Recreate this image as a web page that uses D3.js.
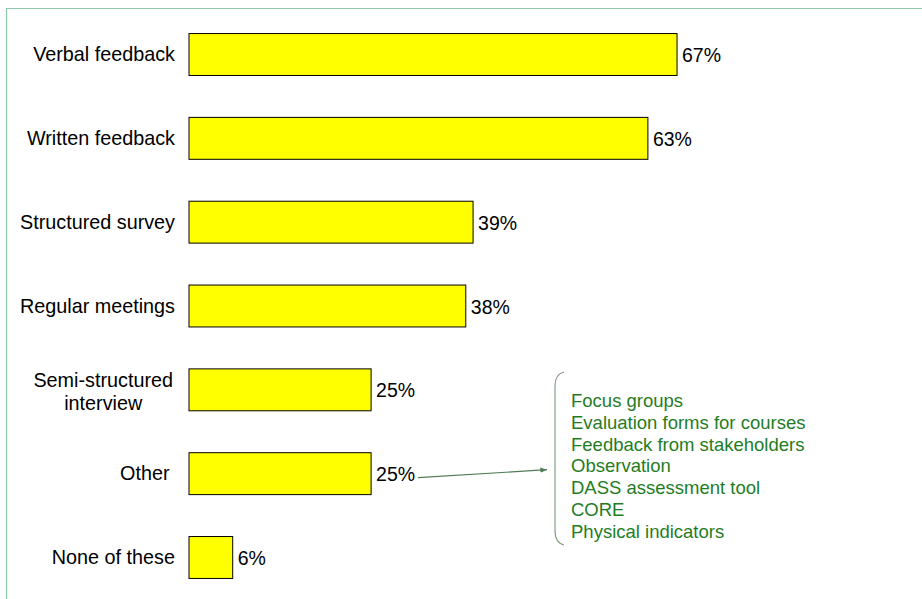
<!DOCTYPE html>
<html>
<head>
<meta charset="utf-8">
<script src="https://cdn.jsdelivr.net/npm/d3@7"></script>
<style>
  html, body { margin: 0; padding: 0; background: #fff; }
  svg { display: block; }
  text { font-family: Arial, "Liberation Sans", sans-serif; }
</style>
</head>
<body>
<svg id="chart" width="922" height="599"></svg>
<script>
// Feedback methods used (share of respondents, %)
const categories = [
  "Verbal feedback",
  "Written feedback",
  "Structured survey",
  "Regular meetings",
  "Semi-structured\ninterview",
  "Other\u00a0",
  "None of these"
];
const values = [67, 63, 39, 38, 25, 25, 6];

// Responses grouped under "Other"
const otherItems = [
  "Focus groups",
  "Evaluation forms for courses",
  "Feedback from stakeholders",
  "Observation",
  "DASS assessment tool",
  "CORE",
  "Physical indicators"
];

const svg = d3.select("#chart");
const W = 922, H = 599;

// Thin frame around the panel
svg.append("path")
  .attr("d", `M6.5,${H + 2} V8.5 H${W + 2}`)
  .attr("fill", "none")
  .attr("stroke", "#8dcaa9")
  .attr("stroke-width", 1.2);

const x = d3.scaleLinear().domain([0, 100]).range([189, 917.4]);
const y = d3.scaleBand()
  .domain(categories)
  .range([12.6, 599.4])
  .paddingInner(0.5)
  .paddingOuter(0.25);

// Bars
svg.append("g").selectAll("rect")
  .data(values)
  .join("rect")
  .attr("x", x(0))
  .attr("y", (d, i) => y(categories[i]))
  .attr("width", d => x(d) - x(0))
  .attr("height", y.bandwidth())
  .attr("fill", "#ffff00")
  .attr("stroke", "#000")
  .attr("stroke-width", 1);

// Value labels
svg.append("g").selectAll("text")
  .data(values)
  .join("text")
  .attr("x", d => x(d) + 5)
  .attr("y", (d, i) => y(categories[i]) + y.bandwidth() / 2 + 0.5)
  .attr("dy", "0.36em")
  .attr("font-size", 19.5)
  .attr("fill", "#000")
  .text(d => d + "%");

// Category labels (wrapped labels: block right-aligned, lines centred)
const labelRight = 175;
const lineH = 23;
const lg = svg.append("g");
categories.forEach(cat => {
  const lines = cat.split("\n");
  const cy = y(cat) + y.bandwidth() / 2;
  const t = lg.append("text")
    .attr("font-size", 19.8)
    .attr("fill", "#000");
  const spans = lines.map((ln, j) =>
    t.append("tspan")
      .attr("y", cy + (j - (lines.length - 1) / 2) * lineH + (lines.length > 1 ? 1.5 : -0.5))
      .attr("dy", "0.36em")
      .text(ln));
  if (lines.length === 1) {
    t.attr("text-anchor", "end");
    spans[0].attr("x", labelRight);
  } else {
    const widths = spans.map(s => s.node().getComputedTextLength());
    const mid = labelRight - 2 - d3.max(widths) / 2;
    t.attr("text-anchor", "middle");
    spans.forEach(s => s.attr("x", mid));
  }
});

// Arrow from "Other" value label to the breakdown list
const oIdx = categories.indexOf("Other\u00a0");
const oy = y(categories[oIdx]) + y.bandwidth() / 2;
svg.append("defs").append("marker")
  .attr("id", "arrowhead")
  .attr("viewBox", "0 0 10 10")
  .attr("refX", 10).attr("refY", 5)
  .attr("markerWidth", 6).attr("markerHeight", 6)
  .attr("orient", "auto")
  .append("path")
  .attr("d", "M0,1 L10,5 L0,9 Z")
  .attr("fill", "#4f7d55");

svg.append("line")
  .attr("x1", x(values[oIdx]) + 47)
  .attr("y1", oy + 4)
  .attr("x2", 547)
  .attr("y2", oy - 4)
  .attr("stroke", "#4f7d55")
  .attr("stroke-width", 1.1)
  .attr("marker-end", "url(#arrowhead)");

// Brace
svg.append("path")
  .attr("d", "M564,372 Q555,374 555,386 V530 Q555,543 564,545")
  .attr("fill", "none")
  .attr("stroke", "#7d957f")
  .attr("stroke-width", 1.1);

// Breakdown list
svg.append("g").selectAll("text")
  .data(otherItems)
  .join("text")
  .attr("x", 571)
  .attr("y", (d, i) => 406.6 + i * 21.95)
  .attr("font-size", 18.5)
  .attr("fill", "#1f7d1f")
  .text(d => d);
</script>
</body>
</html>
